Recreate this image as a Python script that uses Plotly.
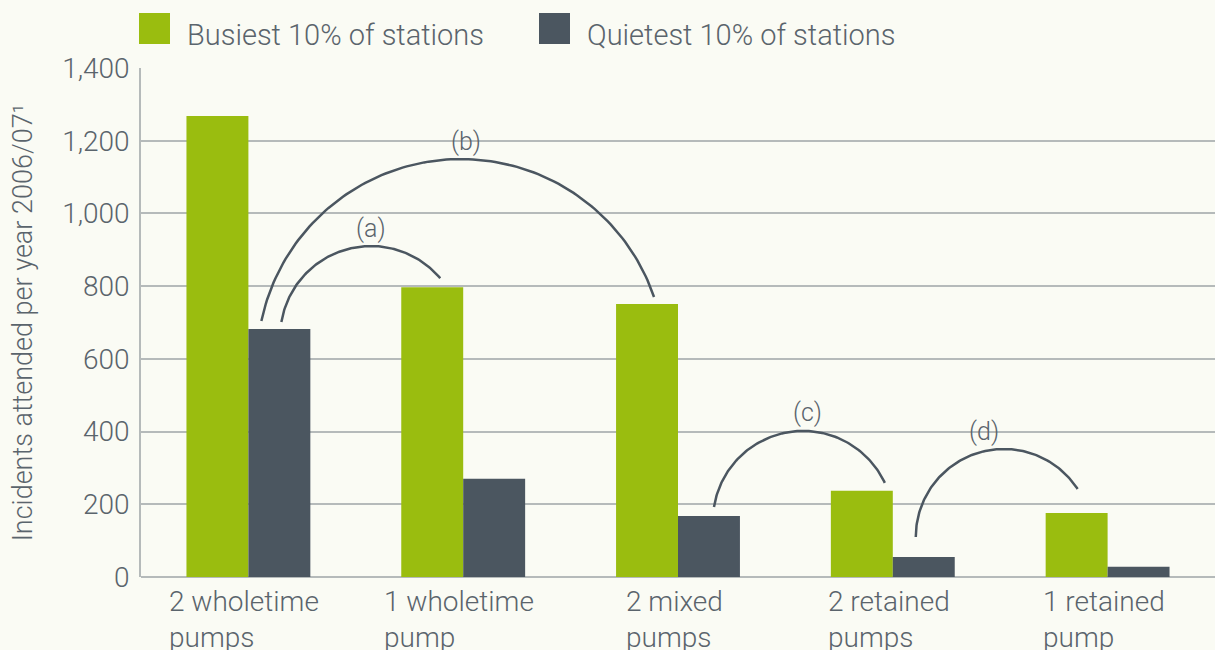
import numpy as np
import plotly.graph_objects as go

# data
categories = ["2 wholetime<br>pumps", "1 wholetime<br>pump", "2 mixed<br>pumps",
              "2 retained<br>pumps", "1 retained<br>pump"]
busiest = [1268, 797, 751, 237, 176]
quietest = [682, 270, 168, 55, 28]
series_names = ["Busiest 10% of stations", "Quietest 10% of stations"]
y_ticks = [0, 200, 400, 600, 800, 1000, 1200, 1400]

GREEN = "#9abd0f"
DARK = "#4b5660"
BG = "#fafbf4"
GRID = "#b5baba"
TEXT = "#5a646c"
FONT = "Roboto"

W, H = 1215, 650
ML, MR, MT, MB = 141, 0, 68, 73
PW, PH = W - ML - MR, H - MT - MB
YMAX = 1400
BARGAP = 0.4233
HALF = (1 - BARGAP) / 4  # offset of each bar centre from category centre

# comparison arcs: from bar -> to bar, pixel nudges and rise of the arc
arcs = [
    dict(label="(a)", frm=(1, 0), to=(0, 1), sdx=2, sgap=7, edx=8, egap=9, rise=76, ldx=0),
    dict(label="(b)", frm=(1, 0), to=(0, 2), sdx=-18, sgap=8, edx=7, egap=7, rise=162, ldx=5),
    dict(label="(c)", frm=(1, 2), to=(0, 3), sdx=5, sgap=9, edx=23, egap=8, rise=76, ldx=4),
    dict(label="(d)", frm=(1, 3), to=(0, 4), sdx=-8, sgap=20, edx=1, egap=24, rise=88, ldx=-20),
]

values = [busiest, quietest]


def to_px(x, y):
    return ML + (x + 0.5) / 5 * PW, MT + (1 - y / YMAX) * PH


def to_data(px, py):
    return (px - ML) / PW * 5 - 0.5, (1 - (py - MT) / PH) * YMAX


def bar_top(s, i):
    x = i - HALF if s == 0 else i + HALF
    return to_px(x, values[s][i])


def arc_points(S, E, peak_y):
    # circle through S and E whose top sits at peak_y (pixel space, y down)
    S, E = np.array(S), np.array(E)
    M = (S + E) / 2
    d = np.linalg.norm(E - S) / 2
    u = (E - S) / (2 * d)
    n = np.array([-u[1], u[0]])
    if n[1] < 0:
        n = -n
    lo, hi = d, 20 * d
    for _ in range(80):
        r = (lo + hi) / 2
        c = M + n * np.sqrt(max(r * r - d * d, 0))
        if c[1] - r < peak_y:
            lo = r
        else:
            hi = r
    a0 = np.arctan2(-(S[1] - c[1]), S[0] - c[0])
    a1 = np.arctan2(-(E[1] - c[1]), E[0] - c[0])
    t = np.linspace(a0, a1, 120)
    return c[0] + r * np.cos(t), c[1] - r * np.sin(t), c[0], c[1] - r


fig = go.Figure()
for s, (name, col) in enumerate(zip(series_names, [GREEN, DARK])):
    fig.add_trace(go.Bar(x=list(range(len(categories))), y=values[s], name=name,
                         marker=dict(color=col, line=dict(width=0)),
                         hoverinfo="y"))

annotations = []
for a in arcs:
    sx, sy = bar_top(*a["frm"])
    ex, ey = bar_top(*a["to"])
    S = (sx + a["sdx"], sy - a["sgap"])
    E = (ex + a["edx"], ey - a["egap"])
    xs, ys, px, py = arc_points(S, E, S[1] - a["rise"])
    dx, dy = to_data(xs, ys)
    fig.add_trace(go.Scatter(x=dx, y=dy, mode="lines", hoverinfo="skip",
                             line=dict(color=DARK, width=2.5), showlegend=False))
    lx, ly = to_data(px + a["ldx"], py - 18)
    annotations.append(dict(x=lx, y=ly, text=a["label"], showarrow=False,
                            font=dict(size=25, color=TEXT, family=FONT, weight=300)))

for i, c in enumerate(categories):
    annotations.append(dict(x=i, y=0, xref="x", yref="paper", yanchor="top",
                            yshift=-6, xshift=-4, text=c, showarrow=False,
                            align="left",
                            font=dict(size=28, color=TEXT, family=FONT, weight=300)))

# manual legend with large swatches
shapes = []
for k, (name, col, px) in enumerate(zip(series_names, [GREEN, DARK], [139, 539])):
    x0 = (px - ML) / PW
    x1 = (px + 31 - ML) / PW
    y0 = (H - MB - 44) / PH
    y1 = (H - MB - 13) / PH
    shapes.append(dict(type="rect", xref="paper", yref="paper", x0=x0, x1=x1,
                       y0=y0, y1=y1, fillcolor=col, line=dict(width=0)))
    annotations.append(dict(x=(px + 46 - ML) / PW, y=(H - MB - 35) / PH,
                            xref="paper", yref="paper", xanchor="left",
                            yanchor="middle", text=name, showarrow=False,
                            font=dict(size=29, color=TEXT, family=FONT, weight=300)))

fig.update_layout(
    width=W, height=H,
    margin=dict(l=ML, r=MR, t=MT, b=MB, pad=0),
    paper_bgcolor=BG, plot_bgcolor=BG,
    barmode="group", bargap=BARGAP, bargroupgap=0,
    showlegend=False,
    annotations=annotations, shapes=shapes,
    font=dict(family=FONT, color=TEXT),
)
fig.update_xaxes(range=[-0.5, 4.5], showticklabels=False, showgrid=False,
                 zeroline=False, showline=False, fixedrange=True)
fig.update_yaxes(range=[0, YMAX], tickvals=y_ticks, tickformat=",",
                 showgrid=True, gridcolor=GRID, gridwidth=1.5,
                 showline=True, linecolor=GRID, linewidth=1.5,
                 zeroline=True, zerolinecolor=GRID, zerolinewidth=1.5,
                 ticklabelstandoff=4,
                 tickfont=dict(size=28, color=TEXT, family=FONT, weight=300),
                 title=dict(text="Incidents attended per year 2006/07¹", standoff=22,
                            font=dict(size=27, color=TEXT, family=FONT, weight=300)))

fig.write_html("out.html", config={"displayModeBar": False},
               post_script="document.body.style.margin='0';document.body.style.overflow='hidden';")
